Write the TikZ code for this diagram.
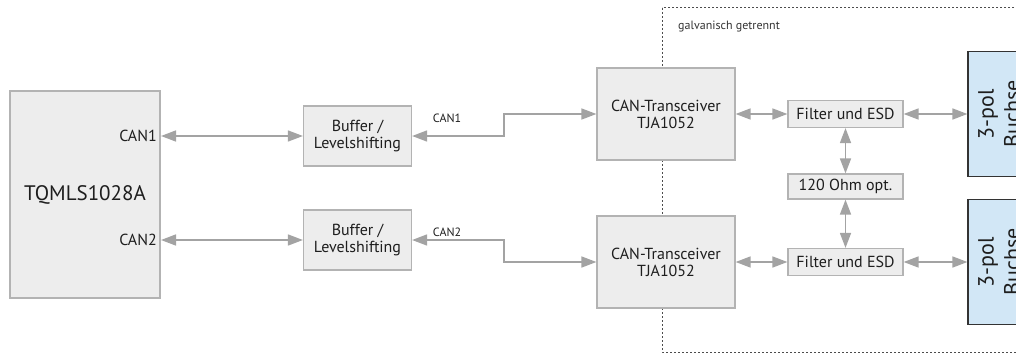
\documentclass[tikz,border=0pt]{standalone}
\usepackage{fontspec}
\setmainfont{PT Sans}
\usetikzlibrary{arrows.meta,calc}
\definecolor{boxgray}{HTML}{EDEDED}
\definecolor{linegray}{HTML}{B3B3B3}
\definecolor{arrowgray}{HTML}{A3A3A3}
\definecolor{jackblue}{HTML}{D2E7F6}
\definecolor{txt}{HTML}{1E1E1E}
\tikzset{
   block/.style={draw=linegray, fill=boxgray, line width=1.2pt, text=txt, align=center,
                 inner sep=0pt, font=\fontsize{16}{17}\selectfont},
   jack/.style={draw=black!80, fill=jackblue, line width=1.2pt, text=txt, align=center,
                inner sep=0pt, rotate=90, font=\fontsize{22}{26}\selectfont}
}

\begin{document}
\begin{tikzpicture}[x=1pt,y=-1pt,
                    >={Triangle[length=15pt,width=11pt]},
                    bus/.style={<->,color=arrowgray,line width=1.6pt},
                    pin/.style={text=txt,font=\fontsize{16}{17}\selectfont,inner sep=4pt},
                    tag/.style={text=txt,font=\fontsize{12}{13}\selectfont,inner sep=3pt}]
\clip (0,0) rectangle (1016,353);
\useasboundingbox (0,0) rectangle (1016,353);
%
\draw[black!70,line width=1pt,dash pattern=on 2pt off 2pt] (662,8) rectangle (1060,352);
\node[tag,anchor=west,text=black!80] (iso) at (675,27) {galvanisch getrennt};
%
\node[block,minimum width=150pt,minimum height=207pt,font=\fontsize{21}{23}\selectfont] (soc) at (85,194.5) {TQMLS1028A};
\node[pin,anchor=east] (can1) at (161,136) {CAN1};
\node[pin,anchor=east] (can2) at (161,240) {CAN2};
%
\node[block,minimum width=108pt,minimum height=60pt] (buf1) at (357.5,136) {Buffer /\\Levelshifting};
\node[block,minimum width=108pt,minimum height=60pt] (buf2) at (357.5,240) {Buffer /\\Levelshifting};
%
\node[block,minimum width=138pt,minimum height=92pt] (trx1) at (666,114) {CAN-Transceiver\\TJA1052};
\node[block,minimum width=138pt,minimum height=92pt] (trx2) at (666,262) {CAN-Transceiver\\TJA1052};
%
\node[block,minimum width=115pt,minimum height=27pt] (esd1) at (845.5,114) {Filter und ESD};
\node[block,minimum width=115pt,minimum height=25pt] (term) at (845.5,186.5) {120 Ohm opt.};
\node[block,minimum width=115pt,minimum height=27pt] (esd2) at (845.5,262) {Filter und ESD};
%
\node[jack,minimum width=125pt,minimum height=62pt] (jack1) at (999,114) {3-pol\\Buchse};
\node[jack,minimum width=125pt,minimum height=62pt] (jack2) at (999,262) {3-pol\\Buchse};
%
\path[bus]
  (can1.east) edge (buf1.west)
  (can2.east) edge (buf2.west)
  (trx1.east) edge (esd1.west)
  (trx2.east) edge (esd2.west)
  (esd1.east) edge (jack1.north)
  (esd2.east) edge (jack2.north)
  (esd1.south) edge (term.north)
  (term.south) edge (esd2.north)
  ;
\draw[bus] (buf1.east) -- node[tag,above=10pt,pos=0.38] {CAN1} ++(92,0) |- (trx1.west);
\draw[bus] (buf2.east) -- node[tag,above=0pt,pos=0.38] {CAN2} ++(92,0) |- (trx2.west);
\end{tikzpicture}
\end{document}
